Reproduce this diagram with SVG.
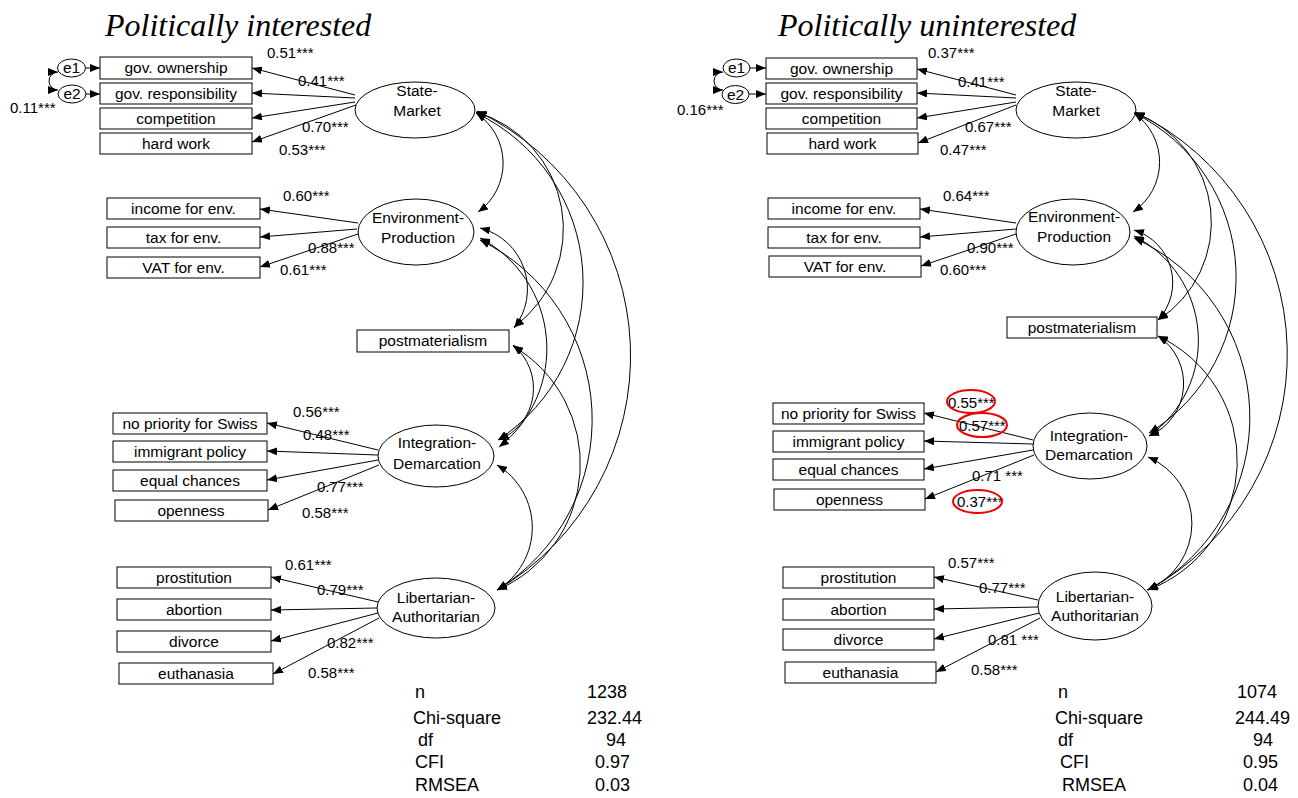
<svg xmlns="http://www.w3.org/2000/svg" width="1298" height="798" viewBox="0 0 1298 798">
<style>
.bx{fill:#fff;stroke:#000;stroke-width:1}
.lat{fill:#fff;stroke:#000;stroke-width:1}
text{font-family:"Liberation Sans",Arial,sans-serif;fill:#000}
.t{font-size:15.5px;text-anchor:middle}
.n{font-size:15px}
.st{font-size:18px}
.ttl{font-family:"Liberation Serif","Times New Roman",serif;font-style:italic;font-size:32px}
.ln{stroke:#000;fill:none;stroke-width:1;marker-end:url(#ah)}
.cov{stroke:#000;fill:none;stroke-width:1;marker-start:url(#ah);marker-end:url(#ah)}
.red{fill:none;stroke:#e00;stroke-width:2}
</style>
<defs>
<marker id="ah" viewBox="0 0 10 8" refX="10" refY="4" markerWidth="10" markerHeight="8" markerUnits="userSpaceOnUse" orient="auto-start-reverse"><path d="M0,0 L10,4 L0,8 z" fill="#000"/></marker>
</defs>
<rect width="1298" height="798" fill="#fff"/>

<text class="ttl" x="105" y="36">Politically interested</text>
<text class="ttl" x="778" y="36">Politically uninterested</text>

<!-- LEFT nodes -->
<g id="L-e1"><ellipse class="lat" cx="71.5" cy="68" rx="14" ry="9"/><text class="t" x="71.5" y="73">e1</text></g>
<g id="L-e2"><ellipse class="lat" cx="72" cy="94" rx="14" ry="9"/><text class="t" x="72" y="99">e2</text></g>
<g id="L-gov-own"><rect class="bx" x="100" y="57" width="152" height="22"/><text class="t" x="176" y="73">gov. ownership</text></g>
<g id="L-gov-resp"><rect class="bx" x="100" y="83" width="152" height="21"/><text class="t" x="176" y="99">gov. responsibility</text></g>
<g id="L-comp"><rect class="bx" x="100" y="108" width="152" height="21"/><text class="t" x="176" y="124">competition</text></g>
<g id="L-hard"><rect class="bx" x="100" y="133" width="152" height="21"/><text class="t" x="176" y="149">hard work</text></g>
<g id="L-SM"><ellipse class="lat" cx="415" cy="110" rx="60" ry="28"/><text class="t" x="417" y="96">State-</text><text class="t" x="417" y="116">Market</text></g>

<g id="L-inc"><rect class="bx" x="107" y="198" width="153" height="21"/><text class="t" x="183.5" y="214">income for env.</text></g>
<g id="L-tax"><rect class="bx" x="107" y="227" width="153" height="21"/><text class="t" x="183.5" y="243">tax for env.</text></g>
<g id="L-vat"><rect class="bx" x="107" y="257" width="153" height="21"/><text class="t" x="183.5" y="273">VAT for env.</text></g>
<g id="L-EP"><ellipse class="lat" cx="416" cy="232" rx="58" ry="33"/><text class="t" x="418" y="223">Environment-</text><text class="t" x="418" y="243">Production</text></g>

<g id="L-PM"><rect class="bx" x="357" y="330" width="152" height="22"/><text class="t" x="433" y="346">postmaterialism</text></g>

<g id="L-nop"><rect class="bx" x="113" y="413" width="154" height="21"/><text class="t" x="190" y="429">no priority for Swiss</text></g>
<g id="L-imm"><rect class="bx" x="113" y="441" width="154" height="21"/><text class="t" x="190" y="457">immigrant policy</text></g>
<g id="L-eq"><rect class="bx" x="113" y="470" width="154" height="21"/><text class="t" x="190" y="486">equal chances</text></g>
<g id="L-open"><rect class="bx" x="115" y="500" width="153" height="21"/><text class="t" x="191" y="516">openness</text></g>
<g id="L-ID"><ellipse class="lat" cx="436" cy="456" rx="58" ry="31"/><text class="t" x="437" y="448">Integration-</text><text class="t" x="437" y="469">Demarcation</text></g>

<g id="L-pros"><rect class="bx" x="117" y="567" width="154" height="21"/><text class="t" x="194" y="583">prostitution</text></g>
<g id="L-abor"><rect class="bx" x="117" y="599" width="154" height="21"/><text class="t" x="194" y="615">abortion</text></g>
<g id="L-div"><rect class="bx" x="117" y="631" width="154" height="21"/><text class="t" x="194" y="647">divorce</text></g>
<g id="L-euth"><rect class="bx" x="119" y="663" width="154" height="21"/><text class="t" x="196" y="679">euthanasia</text></g>
<g id="L-LA"><ellipse class="lat" cx="436" cy="608" rx="59" ry="30"/><text class="t" x="436" y="603">Libertarian-</text><text class="t" x="436" y="622">Authoritarian</text></g>

<!-- RIGHT nodes -->
<g id="R-e1"><ellipse class="lat" cx="736.5" cy="68" rx="13.5" ry="9"/><text class="t" x="736.5" y="73">e1</text></g>
<g id="R-e2"><ellipse class="lat" cx="735.5" cy="94.5" rx="13.5" ry="9"/><text class="t" x="735.5" y="100">e2</text></g>
<g id="R-gov-own"><rect class="bx" x="766" y="58" width="151" height="21"/><text class="t" x="841.5" y="74">gov. ownership</text></g>
<g id="R-gov-resp"><rect class="bx" x="766" y="83" width="151" height="21"/><text class="t" x="841.5" y="99">gov. responsibility</text></g>
<g id="R-comp"><rect class="bx" x="766" y="108" width="151" height="21"/><text class="t" x="841.5" y="124">competition</text></g>
<g id="R-hard"><rect class="bx" x="767" y="133" width="151" height="21"/><text class="t" x="842.5" y="149">hard work</text></g>
<g id="R-SM"><ellipse class="lat" cx="1076" cy="110" rx="60" ry="28"/><text class="t" x="1076" y="96">State-</text><text class="t" x="1076" y="116">Market</text></g>

<g id="R-inc"><rect class="bx" x="768" y="198" width="152" height="21"/><text class="t" x="844" y="214">income for env.</text></g>
<g id="R-tax"><rect class="bx" x="768" y="227" width="152" height="21"/><text class="t" x="844" y="243">tax for env.</text></g>
<g id="R-vat"><rect class="bx" x="769" y="256" width="152" height="21"/><text class="t" x="845" y="272">VAT for env.</text></g>
<g id="R-EP"><ellipse class="lat" cx="1073" cy="232" rx="57" ry="33"/><text class="t" x="1074" y="222">Environment-</text><text class="t" x="1074" y="242">Production</text></g>

<g id="R-PM"><rect class="bx" x="1007" y="317" width="150" height="21"/><text class="t" x="1082" y="333">postmaterialism</text></g>

<g id="R-nop"><rect class="bx" x="773" y="403" width="151" height="21"/><text class="t" x="848.5" y="419">no priority for Swiss</text></g>
<g id="R-imm"><rect class="bx" x="773" y="431" width="151" height="21"/><text class="t" x="848.5" y="447">immigrant policy</text></g>
<g id="R-eq"><rect class="bx" x="773" y="459" width="151" height="21"/><text class="t" x="848.5" y="475">equal chances</text></g>
<g id="R-open"><rect class="bx" x="774" y="489" width="151" height="21"/><text class="t" x="849.5" y="505">openness</text></g>
<g id="R-ID"><ellipse class="lat" cx="1090" cy="446" rx="57" ry="33"/><text class="t" x="1089" y="441">Integration-</text><text class="t" x="1089" y="460">Demarcation</text></g>

<g id="R-pros"><rect class="bx" x="783" y="567" width="151" height="21"/><text class="t" x="858.5" y="583">prostitution</text></g>
<g id="R-abor"><rect class="bx" x="783" y="599" width="151" height="21"/><text class="t" x="858.5" y="615">abortion</text></g>
<g id="R-div"><rect class="bx" x="783" y="629" width="151" height="21"/><text class="t" x="858.5" y="645">divorce</text></g>
<g id="R-euth"><rect class="bx" x="785" y="662" width="151" height="21"/><text class="t" x="860.5" y="678">euthanasia</text></g>
<g id="R-LA"><ellipse class="lat" cx="1095" cy="606" rx="57" ry="34"/><text class="t" x="1095" y="602">Libertarian-</text><text class="t" x="1095" y="621">Authoritarian</text></g>

<!-- connectors -->
<g id="connectors">
<path class="ln" d="M86,68 L100,68"/>
<path class="ln" d="M86,94 L100,94"/>
<path class="cov" d="M58,72 A9,9 0 0 0 58,90"/>
<path class="ln" d="M355,95 L252,68"/>
<path class="ln" d="M355,98 L252,93"/>
<path class="ln" d="M355,102 L252,118"/>
<path class="ln" d="M356,105 L252,142"/>
<path class="ln" d="M358,223 L260,209"/>
<path class="ln" d="M357,229 L260,237"/>
<path class="ln" d="M358,234 L260,267"/>
<path class="ln" d="M378,450 L267,423"/>
<path class="ln" d="M378,455 L267,451"/>
<path class="ln" d="M378,460 L267,480"/>
<path class="ln" d="M379,465 L268,510"/>
<path class="ln" d="M378,602 L271,577"/>
<path class="ln" d="M377,608 L271,610"/>
<path class="ln" d="M378,613 L271,641"/>
<path class="ln" d="M379,618 L273,674"/>
<path class="cov" d="M476,113 A60,60 0 0 1 478,212"/>
<path class="cov" d="M476,112 A122,122 0 0 1 514,327"/>
<path class="cov" d="M476,113 A188,188 0 0 1 498,440"/>
<path class="cov" d="M477,111 A272,272 0 0 1 497,590"/>
<path class="cov" d="M480,228 A63,63 0 0 1 514,328"/>
<path class="cov" d="M480,238 A125,125 0 0 1 499,447"/>
<path class="cov" d="M480,240 A200,200 0 0 1 497,590"/>
<path class="cov" d="M513,345 A56,56 0 0 1 499,440"/>
<path class="cov" d="M513,346 A137,137 0 0 1 497,590"/>
<path class="cov" d="M497,465 A73,73 0 0 1 497,590"/>

<path class="ln" d="M750,68 L766,68"/>
<path class="ln" d="M749,94 L766,94"/>
<path class="cov" d="M723,72 A9,9 0 0 0 723,90"/>
<path class="ln" d="M1016,95 L917,69"/>
<path class="ln" d="M1016,98 L917,93"/>
<path class="ln" d="M1016,102 L917,118"/>
<path class="ln" d="M1016,105 L918,143"/>
<path class="ln" d="M1016,223 L920,209"/>
<path class="ln" d="M1016,229 L920,237"/>
<path class="ln" d="M1016,234 L921,266"/>
<path class="ln" d="M1033,440 L924,413"/>
<path class="ln" d="M1033,444 L924,441"/>
<path class="ln" d="M1033,450 L924,469"/>
<path class="ln" d="M1034,455 L925,499"/>
<path class="ln" d="M1038,600 L934,577"/>
<path class="ln" d="M1038,607 L934,609"/>
<path class="ln" d="M1039,613 L934,639"/>
<path class="ln" d="M1040,618 L936,672"/>
<path class="cov" d="M1134,113 A60,60 0 0 1 1133,212"/>
<path class="cov" d="M1134,113 A116,116 0 0 1 1158,320"/>
<path class="cov" d="M1134,113 A183,183 0 0 1 1149,433"/>
<path class="cov" d="M1135,112 A269,269 0 0 1 1148,590"/>
<path class="cov" d="M1134,230 A55,55 0 0 1 1158,320"/>
<path class="cov" d="M1134,236 A117,117 0 0 1 1149,436"/>
<path class="cov" d="M1134,238 A197,197 0 0 1 1148,590"/>
<path class="cov" d="M1158,336 A57,57 0 0 1 1149,436"/>
<path class="cov" d="M1158,336 A138,138 0 0 1 1148,590"/>
<path class="cov" d="M1148,457 A72,72 0 0 1 1147,590"/>
</g>

<!-- loadings left -->
<g id="L-labels">
<text class="n" x="10" y="113">0.11***</text>
<text class="n" x="267" y="58">0.51***</text>
<text class="n" x="298" y="86">0.41***</text>
<text class="n" x="302" y="132">0.70***</text>
<text class="n" x="279" y="155">0.53***</text>
<text class="n" x="283" y="201">0.60***</text>
<text class="n" x="308" y="253">0.88***</text>
<text class="n" x="280" y="275">0.61***</text>
<text class="n" x="293" y="417">0.56***</text>
<text class="n" x="303" y="440">0.48***</text>
<text class="n" x="317" y="492">0.77***</text>
<text class="n" x="302" y="518">0.58***</text>
<text class="n" x="285" y="570">0.61***</text>
<text class="n" x="317" y="595">0.79***</text>
<text class="n" x="327" y="648">0.82***</text>
<text class="n" x="308" y="678">0.58***</text>
</g>
<g id="R-labels">
<text class="n" x="677" y="115">0.16***</text>
<text class="n" x="928" y="58">0.37***</text>
<text class="n" x="958" y="87">0.41***</text>
<text class="n" x="965" y="132">0.67***</text>
<text class="n" x="940" y="155">0.47***</text>
<text class="n" x="943" y="201">0.64***</text>
<text class="n" x="967" y="253">0.90***</text>
<text class="n" x="940" y="275">0.60***</text>
<text class="n" x="948" y="408">0.55***</text>
<text class="n" x="959" y="431">0.57***</text>
<text class="n" x="972" y="481">0.71 ***</text>
<text class="n" x="957" y="507">0.37***</text>
<text class="n" x="948" y="568">0.57***</text>
<text class="n" x="979" y="593">0.77***</text>
<text class="n" x="988" y="645">0.81 ***</text>
<text class="n" x="971" y="675">0.58***</text>
<ellipse class="red" cx="971" cy="401.5" rx="24" ry="11.5"/>
<ellipse class="red" cx="982" cy="425" rx="25" ry="12"/>
<ellipse class="red" cx="977.5" cy="501.5" rx="24.5" ry="11.5"/>
</g>

<g id="L-stats">
<text class="st" x="415" y="698">n</text>
<text class="st" x="413" y="724">Chi-square</text>
<text class="st" x="418" y="746">df</text>
<text class="st" x="415" y="768">CFI</text>
<text class="st" x="415" y="791">RMSEA</text>
<text class="st" x="587" y="698">1238</text>
<text class="st" x="587" y="724">232.44</text>
<text class="st" x="606" y="746">94</text>
<text class="st" x="595" y="768">0.97</text>
<text class="st" x="595" y="791">0.03</text>
</g>
<g id="R-stats">
<text class="st" x="1058" y="698">n</text>
<text class="st" x="1055" y="724">Chi-square</text>
<text class="st" x="1058" y="746">df</text>
<text class="st" x="1060" y="768">CFI</text>
<text class="st" x="1062" y="791">RMSEA</text>
<text class="st" x="1237" y="698">1074</text>
<text class="st" x="1235" y="724">244.49</text>
<text class="st" x="1253" y="746">94</text>
<text class="st" x="1243" y="768">0.95</text>
<text class="st" x="1243" y="791">0.04</text>
</g>
</svg>
